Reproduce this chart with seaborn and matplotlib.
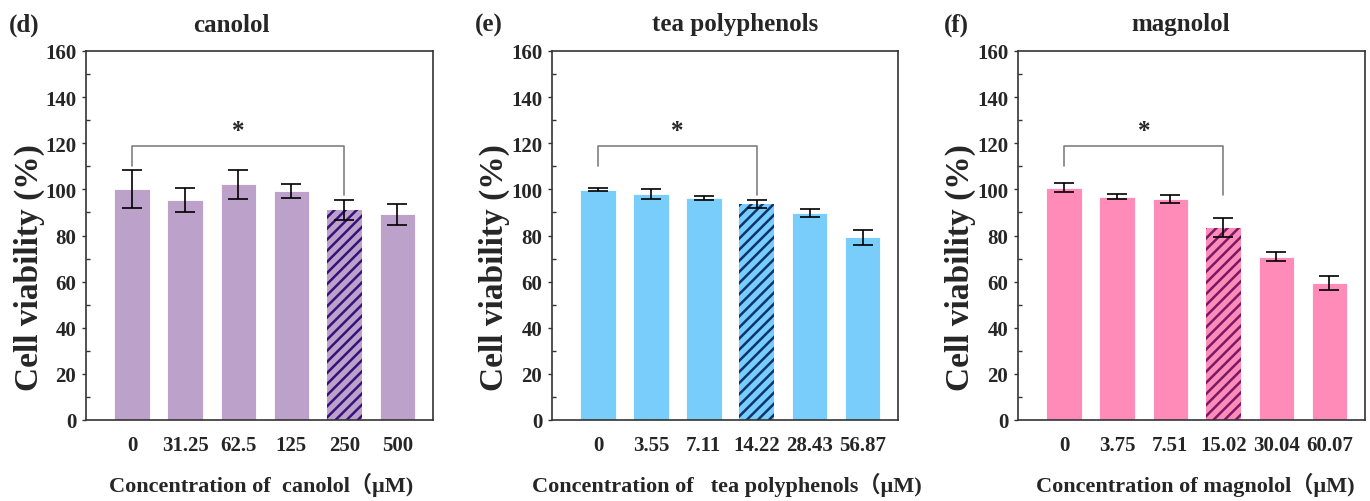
import matplotlib
matplotlib.use("Agg")
import matplotlib.pyplot as plt
import seaborn as sns
import pandas as pd
import numpy as np

# ---- data ----
canolol_conc = ["0", "31.25", "62.5", "125", "250", "500"]
canolol_mean = [100.0, 95.3, 102.2, 99.2, 91.1, 89.2]
canolol_err = [8.2, 5.3, 6.2, 3.0, 4.2, 4.5]

tea_conc = ["0", "3.55", "7.11", "14.22", "28.43", "56.87"]
tea_mean = [99.9, 98.0, 96.2, 93.6, 89.8, 79.2]
tea_err = [0.5, 2.2, 0.9, 1.7, 1.6, 3.2]

mag_conc = ["0", "3.75", "7.51", "15.02", "30.04", "60.07"]
mag_mean = [100.7, 96.9, 95.8, 83.4, 70.8, 59.4]
mag_err = [1.9, 1.2, 1.9, 4.0, 1.9, 3.2]

titles = ["canolol", "tea polyphenols", "magnolol"]
panel_labels = ["(d)", "(e)", "(f)"]
xlabels = ["Concentration of  canolol（μM)",
           "Concentration of   tea polyphenols（μM)",
           "Concentration of magnolol（μM)"]
ylabel = "Cell viability (%)"
sig_pairs = [(0, 4), (0, 3), (0, 3)]
sig_label = "*"

bar_colors = ["#BCA1CB", "#79CDFA", "#FF8BB9"]
hatch_colors = ["#35137A", "#0A3470", "#781A66"]
hatched_idx = [4, 3, 3]

sns.set_theme(style="white")
plt.rcParams['font.family'] = ['Liberation Serif', 'Noto Sans CJK SC', 'DejaVu Sans']
plt.rcParams['font.weight'] = 'bold'
plt.rcParams['hatch.linewidth'] = 1.8

W, H = 1370, 502
fig = plt.figure(figsize=(W / 100, H / 100), dpi=100)

axes_px = [(86, 433), (552, 898), (1018, 1365)]
top_px, bot_px = 52, 421
title_x = [231, 735, 1181]
plabel_x = [24, 489, 956]
ylab_x = [29, 494, 960]
xlab_x = [261, 727, 1195]

datasets = [(canolol_conc, canolol_mean, canolol_err),
            (tea_conc, tea_mean, tea_err),
            (mag_conc, mag_mean, mag_err)]

for i, (conc, mean, err) in enumerate(datasets):
    l, r = axes_px[i]
    ax = fig.add_axes([l / W, (H - bot_px) / H, (r - l) / W, (bot_px - top_px) / H])
    df = pd.DataFrame({"conc": conc, "viability": mean})
    sns.barplot(data=df, x="conc", y="viability", order=conc, color=bar_colors[i],
                width=0.67, saturation=1, ax=ax, errorbar=None,
                edgecolor="white", linewidth=0.6)
    p = ax.patches[hatched_idx[i]]
    p.set_hatch("///")
    p.set_edgecolor(hatch_colors[i])
    p.set_linewidth(0)
    ax.errorbar(np.arange(len(conc)), mean, yerr=err, fmt="none", ecolor="black",
                elinewidth=1.2, capsize=7, capthick=1.2, zorder=5)
    ax.set_ylim(0, 160)
    ax.set_xlim(-0.87, 5.67)
    ax.set_yticks(np.arange(0, 161, 20))
    ax.set_yticks(np.arange(10, 160, 20), minor=True)
    ax.tick_params(axis="y", which="major", direction="out", length=3, width=1,
                   labelsize=15, pad=4, left=True, color="#333333")
    ax.tick_params(axis="y", which="minor", direction="in", length=3, width=1,
                   left=True, color="#333333")
    ax.tick_params(axis="x", which="both", length=0, labelsize=15, pad=11)
    for lab in ax.get_xticklabels() + ax.get_yticklabels():
        lab.set_fontweight("bold")
    ax.set_xlabel("")
    ax.set_ylabel("")
    for s in ax.spines.values():
        s.set_visible(True)
        s.set_color("#333333")
        s.set_linewidth(1.2)
    # significance bracket
    a, b = sig_pairs[i]
    yb = 118.7
    ax.plot([a, a, b, b], [110.2, yb, yb, 97.5], color="#808080", lw=1.2, zorder=4)
    ax.text((a + b) / 2, yb + 2, sig_label, ha="center", va="bottom", fontsize=18,
            fontweight="bold")

    fig.text(title_x[i] / W, 1 - 25 / H, titles[i], ha="center", va="center",
             fontsize=18, fontweight="bold")
    fig.text(plabel_x[i] / W, 1 - 25 / H, panel_labels[i], ha="center", va="center",
             fontsize=18, fontweight="bold")
    fig.text(ylab_x[i] / W, 1 - 268 / H, ylabel, ha="center", va="center",
             rotation=90, fontsize=24, fontweight="bold")
    fig.text(xlab_x[i] / W, 1 - 485 / H, xlabels[i], ha="center", va="center",
             fontsize=16, fontweight="bold")

fig.savefig("out.png", dpi=100)
